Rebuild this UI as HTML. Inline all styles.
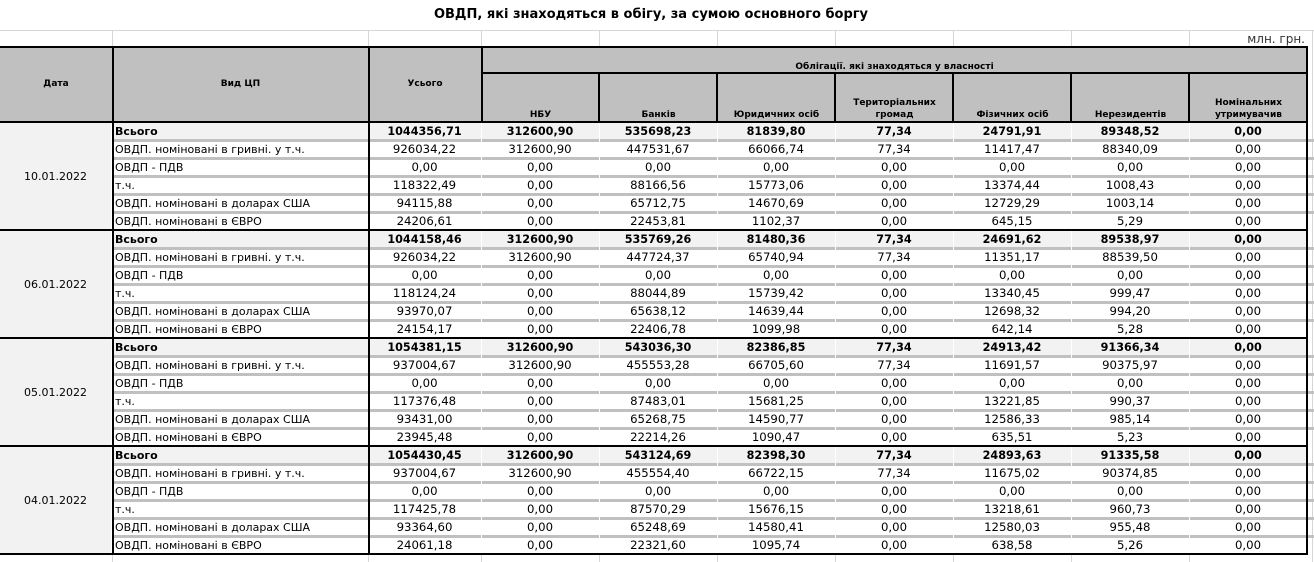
<!DOCTYPE html>
<html><head><meta charset="utf-8">
<style>
*{margin:0;padding:0;box-sizing:border-box}
body{width:1314px;height:562px;overflow:hidden;background:#fff;position:relative;font-family:"DejaVu Sans","Liberation Sans",sans-serif;color:#000}
.a{position:absolute}
.t{position:absolute;left:0;top:7px;width:1302px;text-align:center;font-weight:bold;font-size:13px;line-height:16px}
.u{position:absolute;right:9px;top:32px;font-size:12px;line-height:14px;color:#333}
.g{position:absolute;background:#d6d6d6}
.bk{position:absolute;background:#000}
.hd{position:absolute;font-weight:bold;font-size:9px;text-align:center;line-height:12px}
.r{position:absolute;left:0;width:1314px;height:18px;font-size:11px;line-height:19px;white-space:nowrap}
.r span{position:absolute;top:0;text-align:center;font-size:11.7px}
.r.b span{font-size:11.2px}
.r span.l{left:114px;width:254px;text-align:left;padding-left:1px;font-size:11px}
.c2{left:368px;width:113px}.c3{left:481px;width:118px}.c4{left:599px;width:118px}.c5{left:717px;width:118px}
.c6{left:835px;width:118px}.c7{left:953px;width:118px}.c8{left:1071px;width:118px}.c9{left:1189px;width:118px}
.b{font-weight:bold}
.bg{position:absolute;left:114px;width:1192px;height:17px;background:#f2f2f2}
.sep{position:absolute;left:114px;width:1200px;height:3px;background:#c0c0c0}
.dt{position:absolute;left:0;width:111px;height:107px;background:#f2f2f2;font-size:11px;text-align:center;line-height:107px}
.w{position:absolute;top:122px;height:432px;width:1px;background:#fff}
</style></head><body>
<div class="t">ОВДП, які знаходяться в обігу, за сумою основного боргу</div>
<div class="u">млн. грн.</div>

<div class="g" style="left:0;top:30px;width:1314px;height:1px"></div>
<div class="g" style="left:112px;top:30px;width:1px;height:17px"></div>
<div class="g" style="left:368px;top:30px;width:1px;height:17px"></div>
<div class="g" style="left:481px;top:30px;width:1px;height:17px"></div>
<div class="g" style="left:599px;top:30px;width:1px;height:17px"></div>
<div class="g" style="left:717px;top:30px;width:1px;height:17px"></div>
<div class="g" style="left:835px;top:30px;width:1px;height:17px"></div>
<div class="g" style="left:953px;top:30px;width:1px;height:17px"></div>
<div class="g" style="left:1071px;top:30px;width:1px;height:17px"></div>
<div class="g" style="left:1189px;top:30px;width:1px;height:17px"></div>
<div class="g" style="left:1312px;top:30px;width:1px;height:532px"></div>
<div class="g" style="left:112px;top:555px;width:1px;height:7px"></div>
<div class="g" style="left:368px;top:555px;width:1px;height:7px"></div>
<div class="g" style="left:481px;top:555px;width:1px;height:7px"></div>
<div class="g" style="left:599px;top:555px;width:1px;height:7px"></div>
<div class="g" style="left:717px;top:555px;width:1px;height:7px"></div>
<div class="g" style="left:835px;top:555px;width:1px;height:7px"></div>
<div class="g" style="left:953px;top:555px;width:1px;height:7px"></div>
<div class="g" style="left:1071px;top:555px;width:1px;height:7px"></div>
<div class="g" style="left:1189px;top:555px;width:1px;height:7px"></div>

<div class="a" style="left:0;top:47px;width:1307px;height:75px;background:#c0c0c0"></div>
<div class="hd" style="left:0;top:78px;width:112px">Дата</div>
<div class="hd" style="left:113px;top:78px;width:255px">Вид ЦП</div>
<div class="hd" style="left:369px;top:78px;width:112px">Усього</div>
<div class="hd" style="left:482px;top:61px;width:825px">Облігації. які знаходяться у власності</div>
<div class="hd" style="left:482px;top:109px;width:117px">НБУ</div>
<div class="hd" style="left:600px;top:109px;width:117px">Банків</div>
<div class="hd" style="left:718px;top:109px;width:117px">Юридичних осіб</div>
<div class="hd" style="left:836px;top:97px;width:117px">Територіальних<br>громад</div>
<div class="hd" style="left:954px;top:109px;width:117px">Фізичних осіб</div>
<div class="hd" style="left:1072px;top:109px;width:117px">Нерезидентів</div>
<div class="hd" style="left:1190px;top:97px;width:117px">Номінальних<br>утримувачив</div>

<div class="dt" style="top:123px">10.01.2022</div>
<div class="dt" style="top:231px">06.01.2022</div>
<div class="dt" style="top:339px">05.01.2022</div>
<div class="dt" style="top:447px">04.01.2022</div>

<div class="bg" style="top:122px"></div>
<div class="bg" style="top:230px"></div>
<div class="bg" style="top:338px"></div>
<div class="bg" style="top:446px"></div>

<div class="sep" style="top:139px"></div><div class="sep" style="top:157px"></div><div class="sep" style="top:175px"></div><div class="sep" style="top:193px"></div><div class="sep" style="top:211px"></div>
<div class="sep" style="top:247px"></div><div class="sep" style="top:265px"></div><div class="sep" style="top:283px"></div><div class="sep" style="top:301px"></div><div class="sep" style="top:319px"></div>
<div class="sep" style="top:355px"></div><div class="sep" style="top:373px"></div><div class="sep" style="top:391px"></div><div class="sep" style="top:409px"></div><div class="sep" style="top:427px"></div>
<div class="sep" style="top:463px"></div><div class="sep" style="top:481px"></div><div class="sep" style="top:499px"></div><div class="sep" style="top:517px"></div><div class="sep" style="top:535px"></div>

<div class="w" style="left:481px"></div>
<div class="w" style="left:599px"></div>
<div class="w" style="left:717px"></div>
<div class="w" style="left:835px"></div>
<div class="w" style="left:953px"></div>
<div class="w" style="left:1071px"></div>
<div class="w" style="left:1189px"></div>

<div class="bk" style="left:0;top:46px;width:1308px;height:2px"></div>
<div class="bk" style="left:481px;top:72px;width:827px;height:2px"></div>
<div class="bk" style="left:0;top:121px;width:1308px;height:2px"></div>
<div class="bk" style="left:0;top:229px;width:1308px;height:2px"></div>
<div class="bk" style="left:0;top:337px;width:1308px;height:2px"></div>
<div class="bk" style="left:0;top:445px;width:1308px;height:2px"></div>
<div class="bk" style="left:0;top:553px;width:1308px;height:2px"></div>
<div class="bk" style="left:112px;top:46px;width:2px;height:509px"></div>
<div class="bk" style="left:368px;top:46px;width:2px;height:509px"></div>
<div class="bk" style="left:481px;top:46px;width:2px;height:77px"></div>
<div class="bk" style="left:598px;top:72px;width:2px;height:51px"></div>
<div class="bk" style="left:716px;top:72px;width:2px;height:51px"></div>
<div class="bk" style="left:834px;top:72px;width:2px;height:51px"></div>
<div class="bk" style="left:952px;top:72px;width:2px;height:51px"></div>
<div class="bk" style="left:1070px;top:72px;width:2px;height:51px"></div>
<div class="bk" style="left:1188px;top:72px;width:2px;height:51px"></div>
<div class="bk" style="left:1306px;top:46px;width:2px;height:509px"></div>

<div class="r b" style="top:122px"><span class="l">Всього</span><span class="c2">1044356,71</span><span class="c3">312600,90</span><span class="c4">535698,23</span><span class="c5">81839,80</span><span class="c6">77,34</span><span class="c7">24791,91</span><span class="c8">89348,52</span><span class="c9">0,00</span></div>
<div class="r" style="top:140px"><span class="l">ОВДП. номіновані в гривні. у т.ч.</span><span class="c2">926034,22</span><span class="c3">312600,90</span><span class="c4">447531,67</span><span class="c5">66066,74</span><span class="c6">77,34</span><span class="c7">11417,47</span><span class="c8">88340,09</span><span class="c9">0,00</span></div>
<div class="r" style="top:158px"><span class="l">ОВДП - ПДВ</span><span class="c2">0,00</span><span class="c3">0,00</span><span class="c4">0,00</span><span class="c5">0,00</span><span class="c6">0,00</span><span class="c7">0,00</span><span class="c8">0,00</span><span class="c9">0,00</span></div>
<div class="r" style="top:176px"><span class="l">т.ч.</span><span class="c2">118322,49</span><span class="c3">0,00</span><span class="c4">88166,56</span><span class="c5">15773,06</span><span class="c6">0,00</span><span class="c7">13374,44</span><span class="c8">1008,43</span><span class="c9">0,00</span></div>
<div class="r" style="top:194px"><span class="l">ОВДП. номіновані в доларах США</span><span class="c2">94115,88</span><span class="c3">0,00</span><span class="c4">65712,75</span><span class="c5">14670,69</span><span class="c6">0,00</span><span class="c7">12729,29</span><span class="c8">1003,14</span><span class="c9">0,00</span></div>
<div class="r" style="top:212px"><span class="l">ОВДП. номіновані в ЄВРО</span><span class="c2">24206,61</span><span class="c3">0,00</span><span class="c4">22453,81</span><span class="c5">1102,37</span><span class="c6">0,00</span><span class="c7">645,15</span><span class="c8">5,29</span><span class="c9">0,00</span></div>

<div class="r b" style="top:230px"><span class="l">Всього</span><span class="c2">1044158,46</span><span class="c3">312600,90</span><span class="c4">535769,26</span><span class="c5">81480,36</span><span class="c6">77,34</span><span class="c7">24691,62</span><span class="c8">89538,97</span><span class="c9">0,00</span></div>
<div class="r" style="top:248px"><span class="l">ОВДП. номіновані в гривні. у т.ч.</span><span class="c2">926034,22</span><span class="c3">312600,90</span><span class="c4">447724,37</span><span class="c5">65740,94</span><span class="c6">77,34</span><span class="c7">11351,17</span><span class="c8">88539,50</span><span class="c9">0,00</span></div>
<div class="r" style="top:266px"><span class="l">ОВДП - ПДВ</span><span class="c2">0,00</span><span class="c3">0,00</span><span class="c4">0,00</span><span class="c5">0,00</span><span class="c6">0,00</span><span class="c7">0,00</span><span class="c8">0,00</span><span class="c9">0,00</span></div>
<div class="r" style="top:284px"><span class="l">т.ч.</span><span class="c2">118124,24</span><span class="c3">0,00</span><span class="c4">88044,89</span><span class="c5">15739,42</span><span class="c6">0,00</span><span class="c7">13340,45</span><span class="c8">999,47</span><span class="c9">0,00</span></div>
<div class="r" style="top:302px"><span class="l">ОВДП. номіновані в доларах США</span><span class="c2">93970,07</span><span class="c3">0,00</span><span class="c4">65638,12</span><span class="c5">14639,44</span><span class="c6">0,00</span><span class="c7">12698,32</span><span class="c8">994,20</span><span class="c9">0,00</span></div>
<div class="r" style="top:320px"><span class="l">ОВДП. номіновані в ЄВРО</span><span class="c2">24154,17</span><span class="c3">0,00</span><span class="c4">22406,78</span><span class="c5">1099,98</span><span class="c6">0,00</span><span class="c7">642,14</span><span class="c8">5,28</span><span class="c9">0,00</span></div>

<div class="r b" style="top:338px"><span class="l">Всього</span><span class="c2">1054381,15</span><span class="c3">312600,90</span><span class="c4">543036,30</span><span class="c5">82386,85</span><span class="c6">77,34</span><span class="c7">24913,42</span><span class="c8">91366,34</span><span class="c9">0,00</span></div>
<div class="r" style="top:356px"><span class="l">ОВДП. номіновані в гривні. у т.ч.</span><span class="c2">937004,67</span><span class="c3">312600,90</span><span class="c4">455553,28</span><span class="c5">66705,60</span><span class="c6">77,34</span><span class="c7">11691,57</span><span class="c8">90375,97</span><span class="c9">0,00</span></div>
<div class="r" style="top:374px"><span class="l">ОВДП - ПДВ</span><span class="c2">0,00</span><span class="c3">0,00</span><span class="c4">0,00</span><span class="c5">0,00</span><span class="c6">0,00</span><span class="c7">0,00</span><span class="c8">0,00</span><span class="c9">0,00</span></div>
<div class="r" style="top:392px"><span class="l">т.ч.</span><span class="c2">117376,48</span><span class="c3">0,00</span><span class="c4">87483,01</span><span class="c5">15681,25</span><span class="c6">0,00</span><span class="c7">13221,85</span><span class="c8">990,37</span><span class="c9">0,00</span></div>
<div class="r" style="top:410px"><span class="l">ОВДП. номіновані в доларах США</span><span class="c2">93431,00</span><span class="c3">0,00</span><span class="c4">65268,75</span><span class="c5">14590,77</span><span class="c6">0,00</span><span class="c7">12586,33</span><span class="c8">985,14</span><span class="c9">0,00</span></div>
<div class="r" style="top:428px"><span class="l">ОВДП. номіновані в ЄВРО</span><span class="c2">23945,48</span><span class="c3">0,00</span><span class="c4">22214,26</span><span class="c5">1090,47</span><span class="c6">0,00</span><span class="c7">635,51</span><span class="c8">5,23</span><span class="c9">0,00</span></div>

<div class="r b" style="top:446px"><span class="l">Всього</span><span class="c2">1054430,45</span><span class="c3">312600,90</span><span class="c4">543124,69</span><span class="c5">82398,30</span><span class="c6">77,34</span><span class="c7">24893,63</span><span class="c8">91335,58</span><span class="c9">0,00</span></div>
<div class="r" style="top:464px"><span class="l">ОВДП. номіновані в гривні. у т.ч.</span><span class="c2">937004,67</span><span class="c3">312600,90</span><span class="c4">455554,40</span><span class="c5">66722,15</span><span class="c6">77,34</span><span class="c7">11675,02</span><span class="c8">90374,85</span><span class="c9">0,00</span></div>
<div class="r" style="top:482px"><span class="l">ОВДП - ПДВ</span><span class="c2">0,00</span><span class="c3">0,00</span><span class="c4">0,00</span><span class="c5">0,00</span><span class="c6">0,00</span><span class="c7">0,00</span><span class="c8">0,00</span><span class="c9">0,00</span></div>
<div class="r" style="top:500px"><span class="l">т.ч.</span><span class="c2">117425,78</span><span class="c3">0,00</span><span class="c4">87570,29</span><span class="c5">15676,15</span><span class="c6">0,00</span><span class="c7">13218,61</span><span class="c8">960,73</span><span class="c9">0,00</span></div>
<div class="r" style="top:518px"><span class="l">ОВДП. номіновані в доларах США</span><span class="c2">93364,60</span><span class="c3">0,00</span><span class="c4">65248,69</span><span class="c5">14580,41</span><span class="c6">0,00</span><span class="c7">12580,03</span><span class="c8">955,48</span><span class="c9">0,00</span></div>
<div class="r" style="top:536px"><span class="l">ОВДП. номіновані в ЄВРО</span><span class="c2">24061,18</span><span class="c3">0,00</span><span class="c4">22321,60</span><span class="c5">1095,74</span><span class="c6">0,00</span><span class="c7">638,58</span><span class="c8">5,26</span><span class="c9">0,00</span></div>
</body></html>
